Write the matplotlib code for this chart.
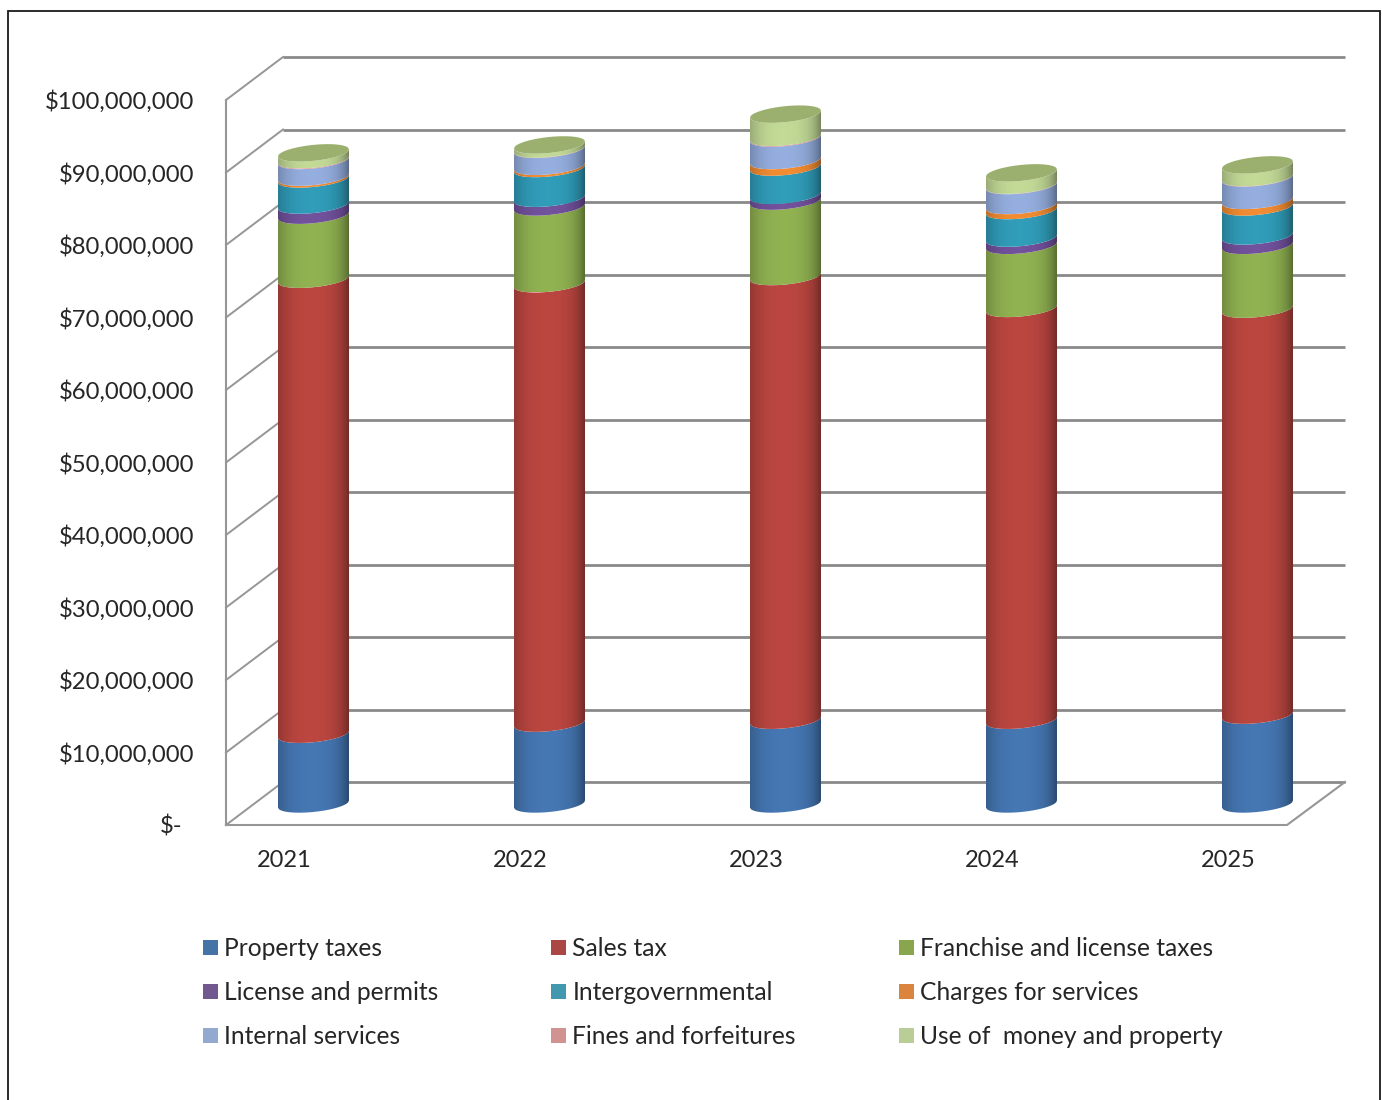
import numpy as np
import matplotlib
matplotlib.use('Agg')
import matplotlib.pyplot as plt
from matplotlib.colors import to_rgb
from matplotlib.patches import Polygon, Rectangle

years = ['2021', '2022', '2023', '2024', '2025']
tick_labels = ['$-', '$10,000,000', '$20,000,000', '$30,000,000', '$40,000,000', '$50,000,000',
               '$60,000,000', '$70,000,000', '$80,000,000', '$90,000,000', '$100,000,000']

# revenue per year, in millions of dollars
property_taxes = [9.62, 11.15, 11.55, 11.55, 12.25]
sales_tax = [62.76, 60.6, 61.2, 56.8, 56.0]
franchise_taxes = [8.83, 10.6, 10.4, 8.7, 8.8]
license_permits = [1.4, 1.2, 0.8, 1.0, 1.3]
intergovernmental = [3.6, 4.1, 3.9, 3.8, 4.0]
charges_services = [0.25, 0.3, 0.9, 0.7, 0.9]
internal_services = [2.3, 2.35, 3.1, 2.75, 3.1]
fines_forfeitures = [0.1, 0.05, 0.1, 0.05, 0.05]
use_of_money = [0.95, 0.55, 3.2, 1.7, 1.75]

names = ['Property taxes', 'Sales tax', 'Franchise and license taxes',
         'License and permits', 'Intergovernmental', 'Charges for services',
         'Internal services', 'Fines and forfeitures', 'Use of  money and property']
series = [property_taxes, sales_tax, franchise_taxes, license_permits, intergovernmental,
          charges_services, internal_services, fines_forfeitures, use_of_money]
colors = ['#4475b0', '#b8453f', '#8eaf50', '#70509a', '#309ab6', '#ee8a32',
          '#92abdb', '#d99694', '#bfd694']
legend_colors = ['#4572a7', '#aa4643', '#89a54e', '#71588f', '#4198af', '#db843d',
                 '#93a9cf', '#d19392', '#b9cd96']

W, H = 1382, 1100
plt.rcParams['font.family'] = ['Lato', 'DejaVu Sans']
text_color = '#262626'
grid_color = '#8a8a8a'
diag_color = '#969696'

fig = plt.figure(figsize=(W / 100, H / 100), dpi=100)
fig.patch.set_facecolor('white')

# outer frame runs off the bottom of the page
fig.add_artist(Rectangle((8 / W, -0.05), 1372 / W, 1.05 - 11 / H, transform=fig.transFigure,
                         fill=False, edgecolor='#1a1a1a', linewidth=1.3))

# axes span the left wall to the far right end of the back wall
ax = fig.add_axes([226 / W, 1 - 825 / H, (1345 - 226) / W, (825 - 57) / H])
ax.patch.set_alpha(0)
x_min, x_max = -0.3708, 4.3708
y_top = 105.93
ax.set_xlim(x_min, x_max)
ax.set_ylim(0, y_top)
for spine in ax.spines.values():
    spine.set_visible(False)

depth_x = 0.2415
depth_y = 5.93
front_right = 4.125

# walls and floor of the 3D box
for v in range(0, 101, 10):
    ax.plot([x_min, x_min + depth_x], [v, v + depth_y], color=diag_color, lw=1.4, zorder=1, clip_on=False)
    ax.plot([x_min + depth_x, x_max], [v + depth_y, v + depth_y], color=grid_color, lw=2.0, zorder=1,
            clip_on=False, solid_capstyle='butt')
ax.plot([x_min, x_min], [0, 100], color=diag_color, lw=1.5, zorder=1, clip_on=False)
ax.plot([x_min, front_right, x_max], [0, 0, depth_y], color=diag_color, lw=1.5, zorder=1, clip_on=False)

# cylinder geometry in axis units
half_w = 0.1504
semi_b = 1.10
tilt = 0.483
base = 2.9
c = np.linspace(-1, 1, 81)


def shade(rgb):
    # horizontal light falloff across a cylinder
    u = np.linspace(-1, 1, 71)
    f = 1.02 - 0.24 * np.abs(u + 0.05) ** 2.5 - 0.12 * np.clip(u, 0, 1) ** 6
    return np.clip(np.outer(f, rgb), 0, 1)[np.newaxis, :, :]


for i in range(len(years)):
    x = i + half_w * c
    bottom = base
    for values, color in zip(series, colors):
        top = bottom + values[i]
        low = bottom + tilt * c - semi_b * np.sqrt(1 - c ** 2)
        up = top + tilt * c - semi_b * np.sqrt(1 - c ** 2)
        verts = np.vstack([np.column_stack([x, low]), np.column_stack([x, up])[::-1]])
        im = ax.imshow(shade(to_rgb(color)), extent=(i - half_w, i + half_w, low.min(), up.max()),
                       aspect='auto', interpolation='bilinear', zorder=3)
        im.set_clip_path(Polygon(verts, closed=True, transform=ax.transData))
        bottom = top
    # top cap of the stack
    upper = bottom + tilt * c + semi_b * np.sqrt(1 - c ** 2)
    lower = bottom + tilt * c - semi_b * np.sqrt(1 - c ** 2)
    cap = np.vstack([np.column_stack([x, lower]), np.column_stack([x, upper])[::-1]])
    ax.add_patch(Polygon(cap, closed=True, facecolor='#9bb06e', edgecolor='none', zorder=4))

ax.set_xlim(x_min, x_max)
ax.set_ylim(0, y_top)

ax.set_yticks(np.arange(0, 101, 10))
ax.set_yticklabels(tick_labels, fontsize=17.2, color=text_color)
ax.get_yticklabels()[0].set_x(-12 / (1345 - 226))
ax.tick_params(axis='y', length=0, pad=23)
ax.set_xticks(np.arange(len(years)) - 0.125)
ax.set_xticklabels(years, fontsize=17.0, color=text_color)
ax.tick_params(axis='x', length=0, pad=18)

# legend laid out row by row
col_x = [203, 551, 899]
row_y = [948, 992, 1036]
for k, (name, color) in enumerate(zip(names, legend_colors)):
    px = col_x[k % 3]
    py = row_y[k // 3]
    fig.add_artist(Rectangle((px / W, 1 - (py + 7) / H), 15 / W, 15 / H, transform=fig.transFigure,
                             facecolor=color, edgecolor='none'))
    fig.text((px + 21.5) / W, 1 - py / H, name, fontsize=17.7, color=text_color, va='center', ha='left')

fig.savefig('out.png', dpi=100)
